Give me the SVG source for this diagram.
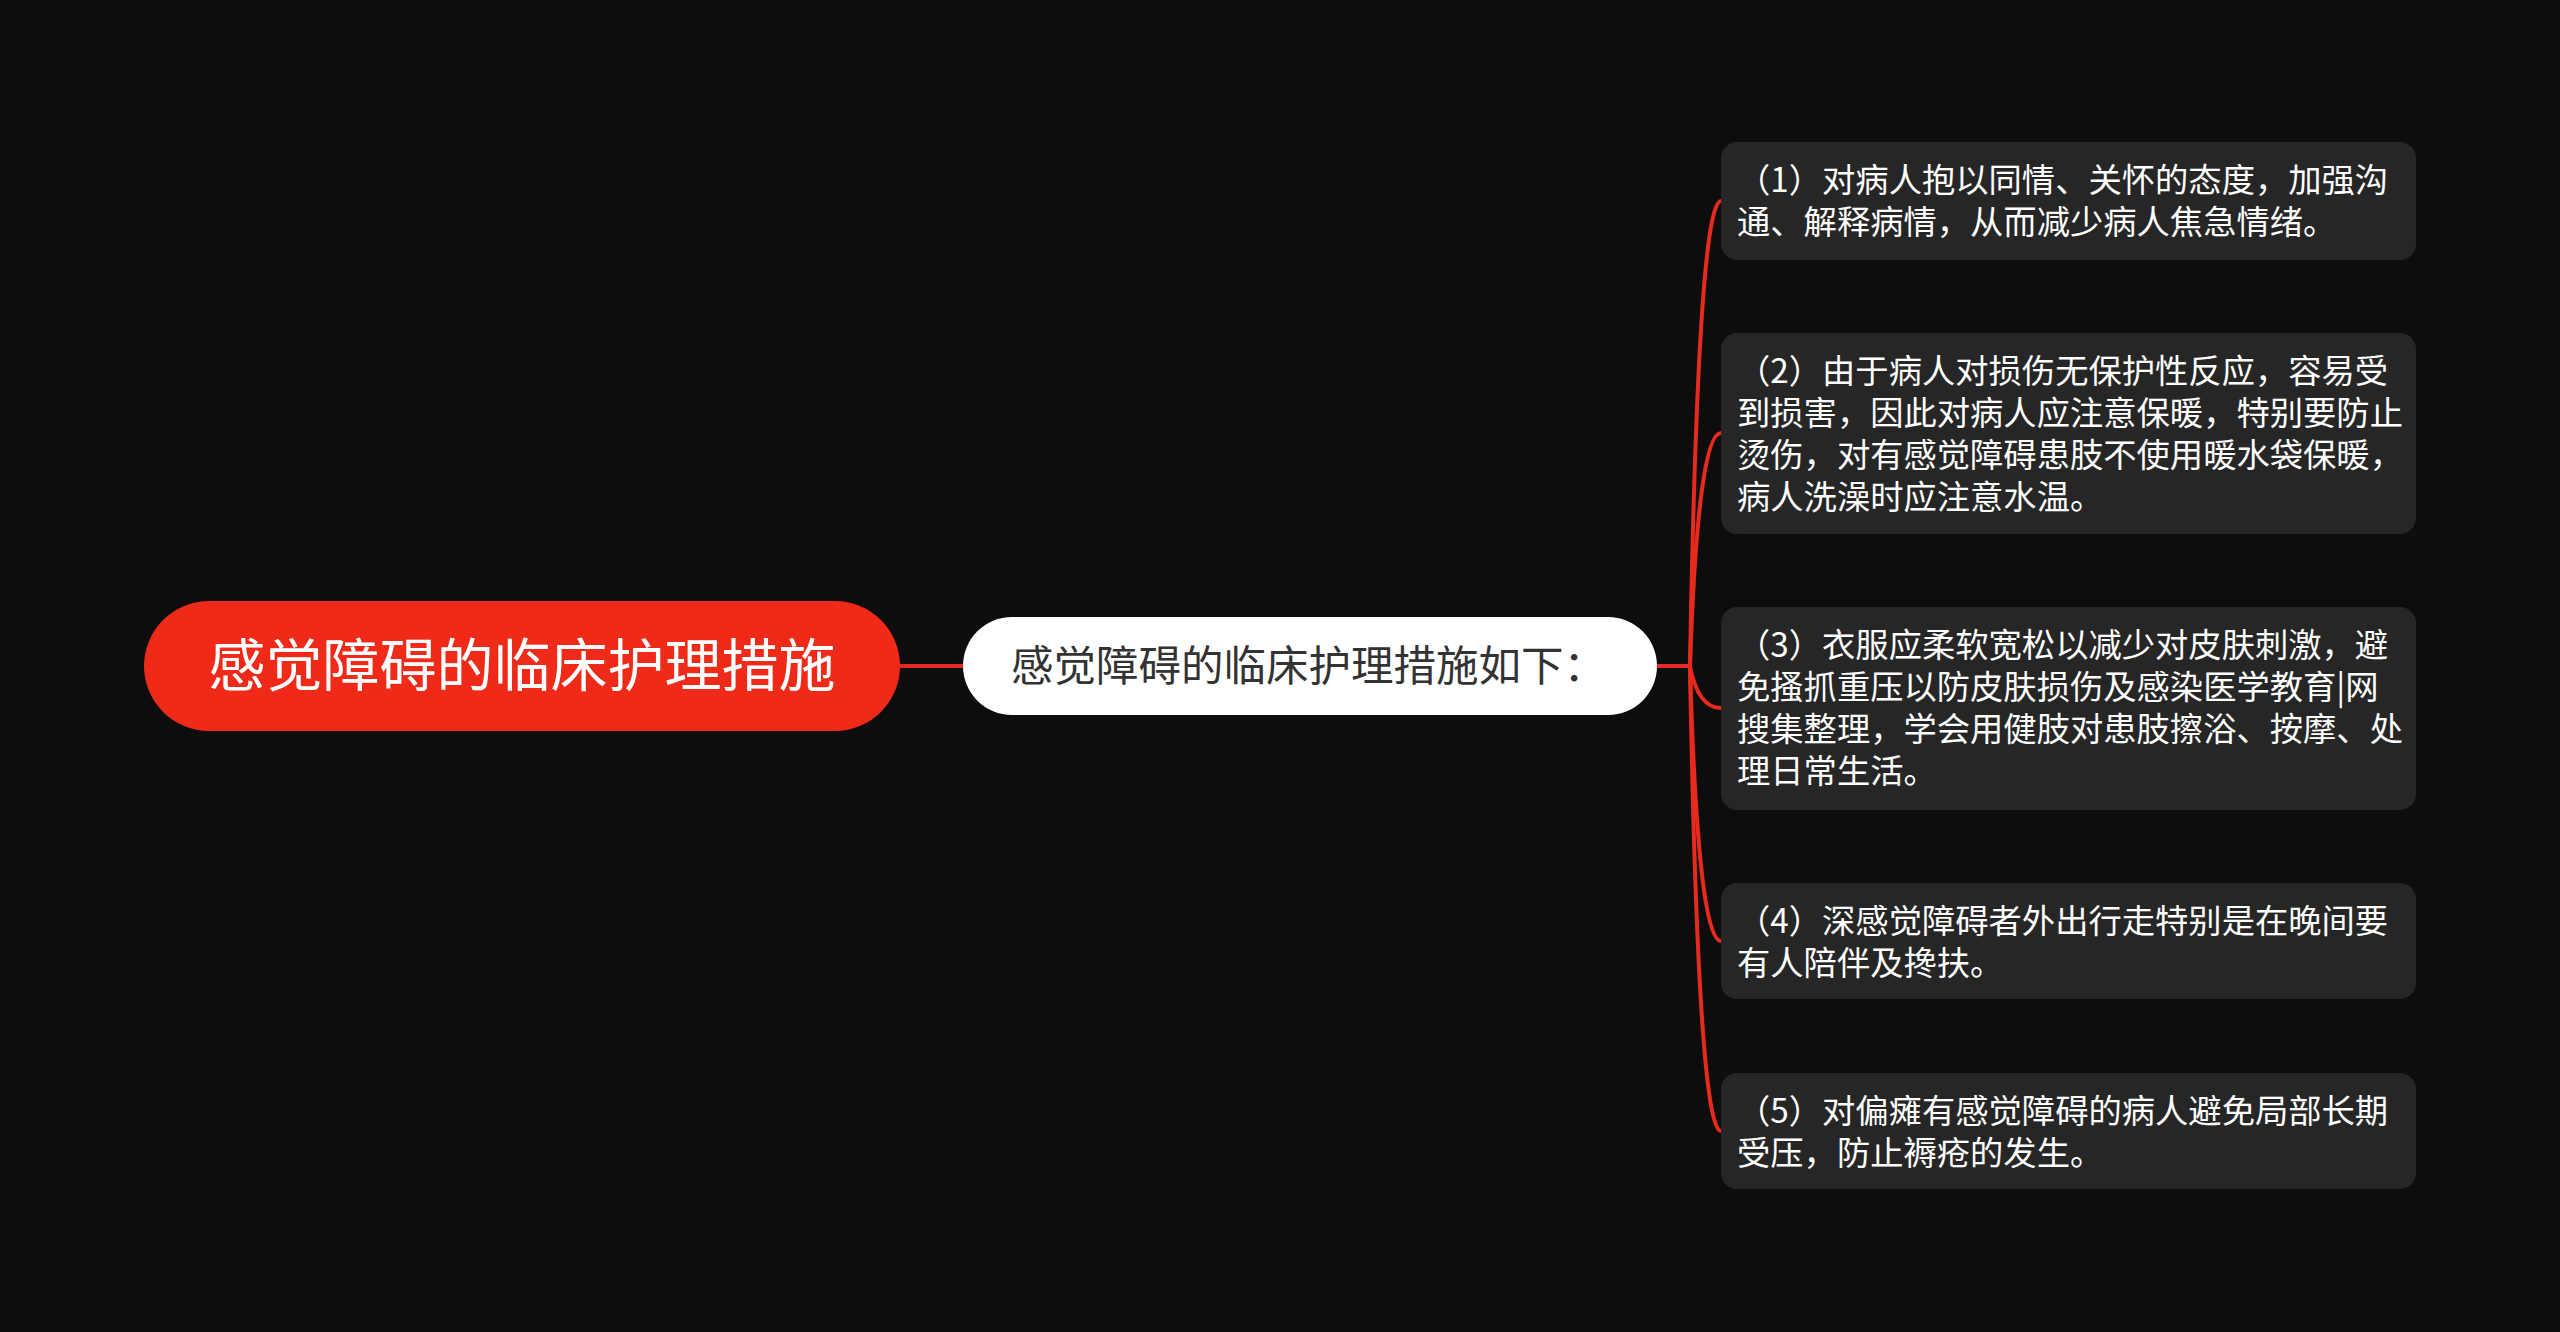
<svg xmlns="http://www.w3.org/2000/svg" width="2560" height="1332" viewBox="0 0 2560 1332">
<style>
.bg{fill:#0d0d0e}
.conn{fill:none;stroke:#e62a1d;stroke-width:4}
.root{fill:#ef2a19}
.mid{fill:#ffffff}
.leaf{fill:#262626}
text{font-family:"Noto Sans CJK SC","Noto Sans",sans-serif}
.rt{fill:#ffffff;font-size:57px}
.mt{fill:#333333;font-size:42.5px}
.lt{fill:#ffffff;font-size:33.3px}
</style>
<rect class="bg" x="0" y="0" width="2560" height="1332"/>
<g id="connectors">
<path class="conn" d="M900 666 L963 666"/>
<path class="conn" d="M1657 666 L1690 666"/>
<path class="conn" d="M1690 666 Q1698 201 1721 201"/>
<path class="conn" d="M1690 666 Q1698 433 1721 433"/>
<path class="conn" d="M1690 666 Q1698 708 1721 708"/>
<path class="conn" d="M1690 666 Q1698 941 1721 941"/>
<path class="conn" d="M1690 666 Q1698 1131 1721 1131"/>
</g>
<g id="root">
<rect class="root" x="144" y="601" width="756" height="130" rx="65"/>
<text class="rt" x="522" y="686" text-anchor="middle">感觉障碍的临床护理措施</text>
</g>
<g id="middle">
<rect class="mid" x="963" y="617" width="694" height="98" rx="49"/>
<text class="mt" x="1011" y="681">感觉障碍的临床护理措施如下：</text>
</g>
<g id="leaf1">
<rect class="leaf" x="1721" y="142" width="695" height="118" rx="16"/>
<text class="lt" x="1737" y="192">（1）对病人抱以同情、关怀的态度，加强沟</text>
<text class="lt" x="1737" y="234">通、解释病情，从而减少病人焦急情绪。</text>
</g>
<g id="leaf2">
<rect class="leaf" x="1721" y="333" width="695" height="201" rx="16"/>
<text class="lt" x="1737" y="383">（2）由于病人对损伤无保护性反应，容易受</text>
<text class="lt" x="1737" y="425">到损害，因此对病人应注意保暖，特别要防止</text>
<text class="lt" x="1737" y="467">烫伤，对有感觉障碍患肢不使用暖水袋保暖，</text>
<text class="lt" x="1737" y="509">病人洗澡时应注意水温。</text>
</g>
<g id="leaf3">
<rect class="leaf" x="1721" y="607" width="695" height="203" rx="16"/>
<text class="lt" x="1737" y="657">（3）衣服应柔软宽松以减少对皮肤刺激，避</text>
<text class="lt" x="1737" y="699">免搔抓重压以防皮肤损伤及感染医学教育|网</text>
<text class="lt" x="1737" y="741">搜集整理，学会用健肢对患肢擦浴、按摩、处</text>
<text class="lt" x="1737" y="783">理日常生活。</text>
</g>
<g id="leaf4">
<rect class="leaf" x="1721" y="883" width="695" height="116" rx="16"/>
<text class="lt" x="1737" y="933">（4）深感觉障碍者外出行走特别是在晚间要</text>
<text class="lt" x="1737" y="975">有人陪伴及搀扶。</text>
</g>
<g id="leaf5">
<rect class="leaf" x="1721" y="1073" width="695" height="116" rx="16"/>
<text class="lt" x="1737" y="1123">（5）对偏瘫有感觉障碍的病人避免局部长期</text>
<text class="lt" x="1737" y="1165">受压，防止褥疮的发生。</text>
</g>
</svg>
